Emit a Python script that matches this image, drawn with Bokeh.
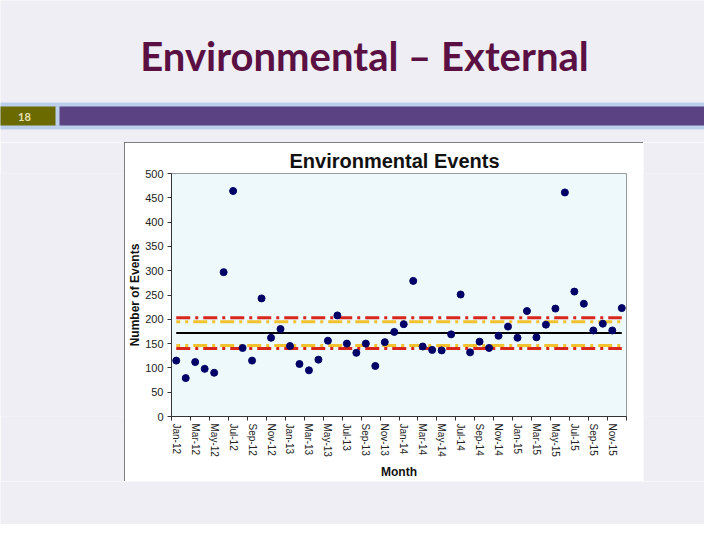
from bokeh.plotting import figure
from bokeh.models import Range1d, FixedTicker
from bokeh.layouts import column, row
from bokeh.core.properties import value
from bokeh.embed import file_html
from bokeh.resources import INLINE

# ---------------- data ----------------
months = ["Jan-12", "Feb-12", "Mar-12", "Apr-12", "May-12", "Jun-12", "Jul-12", "Aug-12",
          "Sep-12", "Oct-12", "Nov-12", "Dec-12", "Jan-13", "Feb-13", "Mar-13", "Apr-13",
          "May-13", "Jun-13", "Jul-13", "Aug-13", "Sep-13", "Oct-13", "Nov-13", "Dec-13",
          "Jan-14", "Feb-14", "Mar-14", "Apr-14", "May-14", "Jun-14", "Jul-14", "Aug-14",
          "Sep-14", "Oct-14", "Nov-14", "Dec-14", "Jan-15", "Feb-15", "Mar-15", "Apr-15",
          "May-15", "Jun-15", "Jul-15", "Aug-15", "Sep-15", "Oct-15", "Nov-15", "Dec-15"]
events = [115, 79, 112, 98, 90, 297, 464, 141, 115, 243, 162, 180,
          145, 108, 95, 117, 156, 208, 150, 131, 150, 104, 153, 174,
          190, 279, 144, 137, 136, 169, 251, 132, 154, 141, 166, 185,
          162, 217, 163, 189, 222, 461, 257, 232, 177, 191, 177, 223]
mean_value = 172
upper_limit = 203
lower_limit = 140
upper_warning = 195
lower_warning = 146
y_ticks = [0, 50, 100, 150, 200, 250, 300, 350, 400, 450, 500]

slide_title = "Environmental – External"
slide_number = "18"
chart_title = "Environmental Events"

n = len(events)
idx = list(range(n))

SLIDE_BG = "#eeeef4"


def blank(w, h, xr=None, yr=None):
    f = figure(width=w, height=h, output_backend="svg", toolbar_location=None,
               x_axis_location=None, y_axis_location=None,
               x_range=xr if xr is not None else Range1d(0, 1),
               y_range=yr if yr is not None else Range1d(0, 1),
               min_border=0)
    f.border_fill_color = SLIDE_BG
    f.background_fill_color = SLIDE_BG
    f.outline_line_color = None
    f.grid.visible = False
    return f


# ---------------- slide header (window pixel coordinates) ----------------
head = blank(704, 142, Range1d(8, 712), Range1d(150, 8))
head.quad(left=[0], right=[720], top=[110], bottom=[137], fill_color="#bccfea", line_color=None)
head.quad(left=[0], right=[63], top=[114], bottom=[133], fill_color="#6a6a00", line_color=None)
head.quad(left=[67], right=[720], top=[114], bottom=[133], fill_color="#5b4383", line_color=None)
head.text(x=[372], y=[63], text=[slide_title], text_font=value("Lato"), text_font_style="bold",
          text_font_size="40px", text_color="#5a1042", text_align="center", text_baseline="middle")
head.text(x=[32], y=[124], text=[slide_number], text_font=value("Lato"), text_font_style="bold",
          text_font_size="11px", text_color="#e6e2b0", text_align="center", text_baseline="middle")

# ---------------- chart ----------------
p = figure(width=519, height=339, output_backend="svg", toolbar_location=None,
           x_range=Range1d(-0.5, n - 0.5), y_range=Range1d(0, 500),
           min_border_left=47, min_border_right=17, min_border_top=31, min_border_bottom=65,
           title=chart_title,
           styles={"outline": "1px solid #555555", "outline-offset": "-1px"})
p.border_fill_color = "white"
p.background_fill_color = "#edf9fb"
p.outline_line_color = "#9a9a9a"
p.grid.visible = False
p.title.align = "left"
p.title.offset = 118
p.title.standoff = 0
p.title.vertical_align = "top"
p.title.text_font = "Liberation Sans"
p.title.text_font_style = "bold"
p.title.text_font_size = "20px"
p.title.text_color = "#111111"

# control lines
p.line(idx, [upper_limit] * n, line_color="#d9261c", line_width=3, line_dash="14 5 3 5")
p.line(idx, [upper_warning] * n, line_color="#f2c12e", line_width=3, line_dash="14 5 3 5", line_dash_offset=10)
p.line(idx, [mean_value] * n, line_color="black", line_width=2)
p.line(idx, [lower_warning] * n, line_color="#f2c12e", line_width=3, line_dash="14 5 3 5", line_dash_offset=10)
p.line(idx, [lower_limit] * n, line_color="#d9261c", line_width=3, line_dash="14 5 3 5")

p.scatter(idx, events, size=7, color="#000066")

# axes
xa = p.xaxis[0]
xa.ticker = FixedTicker(ticks=idx[::2], minor_ticks=[i - 0.5 for i in range(0, n + 1, 2)])
xa.major_label_overrides = {i: months[i] for i in idx[::2]}
xa.major_label_orientation = "vertical"
xa.major_tick_line_color = None
xa.major_tick_out = 4
xa.major_tick_in = 0
xa.minor_tick_line_color = "#333333"
xa.minor_tick_out = 4
xa.minor_tick_in = 0
xa.major_label_standoff = 3
xa.major_label_text_font = "Liberation Sans"
xa.major_label_text_font_size = "10px"
xa.major_label_text_color = "#222222"
xa.axis_line_color = "#333333"
xa.axis_label = "Month"
xa.axis_label_text_font = "Liberation Sans"
xa.axis_label_text_font_style = "bold"
xa.axis_label_text_font_size = "12px"
xa.axis_label_text_color = "#111111"
xa.axis_label_standoff = 5

ya = p.yaxis[0]
ya.ticker = FixedTicker(ticks=y_ticks, minor_ticks=[])
ya.major_tick_out = 4
ya.major_tick_in = 0
ya.major_tick_line_color = "#333333"
ya.minor_tick_line_color = None
ya.major_label_standoff = 4
ya.major_label_text_font = "Liberation Sans"
ya.major_label_text_font_size = "11px"
ya.major_label_text_color = "#222222"
ya.axis_line_color = "#333333"
ya.axis_label = "Number of Events"
ya.axis_label_text_font = "Liberation Sans"
ya.axis_label_text_font_style = "bold"
ya.axis_label_text_font_size = "12px"
ya.axis_label_text_color = "#111111"
ya.axis_label_standoff = 0

left_pad = blank(124, 339)
right_pad = blank(61, 339)
bottom_pad = blank(704, 43)

layout = column(head, row(left_pad, p, right_pad), bottom_pad)

open("out.html", "w").write(file_html(layout, INLINE))
